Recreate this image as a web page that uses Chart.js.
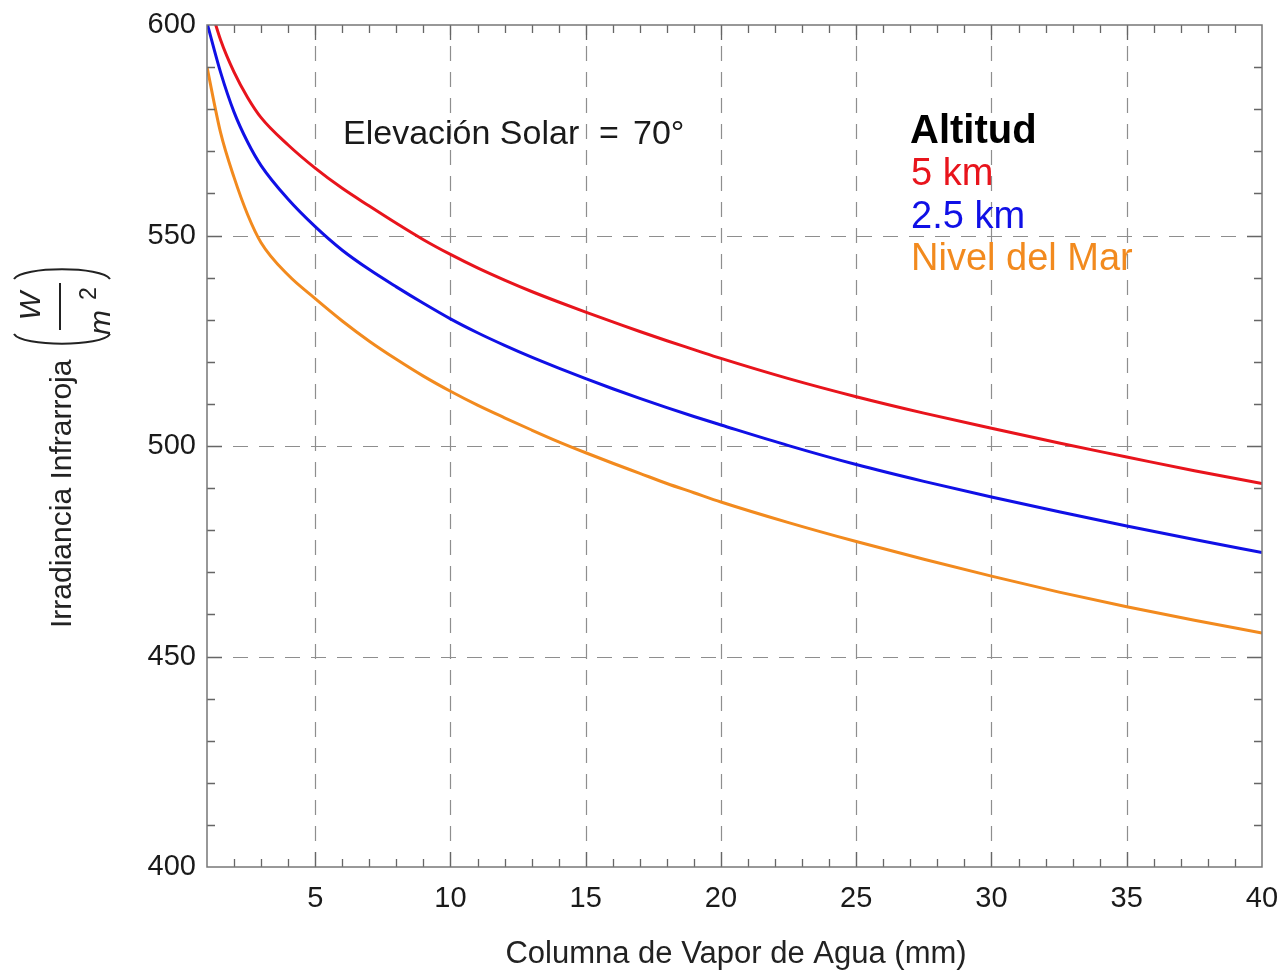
<!DOCTYPE html>
<html>
<head>
<meta charset="utf-8">
<script src="https://cdn.jsdelivr.net/npm/chart.js@4.4.1/dist/chart.umd.min.js"></script>
<style>
  html, body { margin: 0; padding: 0; background: #fff; }
  #wrap { width: 1284px; height: 974px; }
</style>
</head>
<body>
<div id="wrap"><canvas id="c" width="1284" height="974"></canvas></div>
<script>
// Water vapour column (mm)
const waterVapor = [1, 1.5, 2, 2.5, 3, 4, 5, 6, 7, 8, 9, 10, 11, 12, 13, 14, 15, 16, 17, 18, 19, 20,
                    22.5, 25, 27.5, 30, 32.5, 35, 37.5, 40];
// Infrared irradiance (W/m²) at each altitude
const irr5km = [607, 596.5, 588.8, 582.8, 578.0, 571.5, 566.0, 561.2, 557.0, 552.9, 549.0, 545.5,
                542.3, 539.4, 536.7, 534.2, 531.8, 529.5, 527.2, 525.0, 522.9, 520.8,
                516.0, 511.7, 507.8, 504.2, 500.7, 497.4, 494.1, 491.1];
const irr25km = [600.5, 588.8, 579.3, 572.2, 566.6, 558.6, 552.1, 546.5, 541.9, 537.8, 533.9, 530.2,
                 526.9, 523.9, 521.1, 518.5, 516.0, 513.6, 511.3, 509.1, 507.0, 505.0,
                 500.1, 495.6, 491.6, 487.9, 484.4, 481.0, 477.8, 474.7];
const irrSea = [590, 574.5, 563.8, 555.0, 548.3, 540.6, 535.0, 529.7, 524.9, 520.6, 516.6, 513.0,
                509.7, 506.7, 503.8, 501.0, 498.4, 495.9, 493.5, 491.1, 488.9, 486.7,
                481.8, 477.3, 473.1, 469.1, 465.3, 461.8, 458.6, 455.6];

const seriesNames = ['5 km', '2.5 km', 'Nivel del Mar'];
const seriesColors = ['#e8141c', '#1010e6', '#f28a1e'];
const legendTitle = 'Altitud';
const xTickValues = [5, 10, 15, 20, 25, 30, 35, 40];
const yTickValues = [400, 450, 500, 550, 600];
const xTitle = 'Columna de Vapor de Agua (mm)';
const yTitle = 'Irradiancia Infrarroja';
const noteParts = ['Elevación Solar', '=', '70°'];

const FONT = '"Liberation Sans", Arial, Helvetica, sans-serif';

function toPoints(ys) {
  return waterVapor.map((x, i) => ({ x: x, y: ys[i] }));
}

// Dashed grid, inner tick marks and frame (Mathematica-style box)
const framePlugin = {
  id: 'framePlugin',
  beforeDatasetsDraw(chart) {
    const { ctx, chartArea: a, scales: { x, y } } = chart;
    ctx.save();
    ctx.strokeStyle = '#8e8e8e';
    ctx.lineWidth = 1.2;
    ctx.setLineDash([15, 11]);
    xTickValues.forEach(v => {
      if (v <= x.min || v >= x.max) return;
      const px = Math.round(x.getPixelForValue(v)) + 0.5;
      ctx.beginPath(); ctx.moveTo(px, a.bottom); ctx.lineTo(px, a.top); ctx.stroke();
    });
    yTickValues.forEach(v => {
      if (v <= y.min || v >= y.max) return;
      const py = Math.round(y.getPixelForValue(v)) + 0.5;
      ctx.beginPath(); ctx.moveTo(a.left, py); ctx.lineTo(a.right, py); ctx.stroke();
    });
    ctx.restore();
  },
  afterDatasetsDraw(chart) {
    const { ctx, chartArea: a, scales: { x, y } } = chart;
    ctx.save();
    ctx.strokeStyle = '#666';
    ctx.lineWidth = 1.3;
    // x ticks every 1 mm, longer at multiples of 5
    for (let v = Math.ceil(x.min) + 1; v < x.max; v++) {
      const px = Math.round(x.getPixelForValue(v)) + 0.5;
      const len = v % 5 === 0 ? 15 : 8;
      ctx.beginPath();
      ctx.moveTo(px, a.bottom); ctx.lineTo(px, a.bottom - len);
      ctx.moveTo(px, a.top); ctx.lineTo(px, a.top + len);
      ctx.stroke();
    }
    // y ticks every 10, longer at multiples of 50
    for (let v = y.min + 10; v < y.max; v += 10) {
      const py = Math.round(y.getPixelForValue(v)) + 0.5;
      const len = v % 50 === 0 ? 15 : 8;
      ctx.beginPath();
      ctx.moveTo(a.left, py); ctx.lineTo(a.left + len, py);
      ctx.moveTo(a.right, py); ctx.lineTo(a.right - len, py);
      ctx.stroke();
    }
    ctx.strokeStyle = '#777';
    ctx.lineWidth = 1.5;
    ctx.strokeRect(a.left, a.top, a.right - a.left, a.bottom - a.top);
    ctx.restore();
  },
  afterDraw(chart) {
    const { ctx } = chart;
    ctx.save();
    ctx.textBaseline = 'alphabetic';
    ctx.textAlign = 'left';

    // solar elevation note
    ctx.fillStyle = '#1a1a1a';
    ctx.font = '34px ' + FONT;
    ctx.fillText(noteParts[0], 343, 144);
    ctx.fillText(noteParts[1], 599, 144);
    ctx.fillText(noteParts[2], 633, 144);

    // legend block
    ctx.fillStyle = '#000';
    ctx.font = 'bold 40px ' + FONT;
    ctx.fillText(legendTitle, 910, 143);
    ctx.font = '38px ' + FONT;
    const rows = [185, 228, 270];
    seriesNames.forEach((n, i) => {
      ctx.fillStyle = seriesColors[i];
      ctx.fillText(n, 911, rows[i]);
    });

    // x axis title
    ctx.fillStyle = '#222';
    ctx.font = '31px ' + FONT;
    ctx.textAlign = 'center';
    ctx.fillText(xTitle, 736, 963);

    // y axis title with (W / m²)
    ctx.translate(71, 628);
    ctx.rotate(-Math.PI / 2);
    ctx.textAlign = 'left';
    ctx.font = '30px ' + FONT;
    ctx.fillText(yTitle, 0, 0);

    ctx.strokeStyle = '#222';
    ctx.lineWidth = 2;
    // parentheses
    ctx.beginPath();
    ctx.moveTo(294, -57); ctx.bezierCurveTo(281, -49, 281, 31, 294, 39);
    ctx.moveTo(349, -57); ctx.bezierCurveTo(362, -49, 362, 31, 349, 39);
    ctx.stroke();
    // fraction bar
    ctx.beginPath();
    ctx.moveTo(298, -11); ctx.lineTo(345, -11);
    ctx.stroke();
    // numerator and denominator
    ctx.font = 'italic 30px ' + FONT;
    ctx.textAlign = 'center';
    ctx.fillText('W', 322, -31);
    ctx.textAlign = 'left';
    ctx.fillText('m', 293, 39);
    ctx.font = '23px ' + FONT;
    ctx.fillText('2', 328, 25);
    ctx.restore();
  }
};

const datasets = [irr5km, irr25km, irrSea].map((ys, i) => ({
  label: seriesNames[i],
  data: toPoints(ys),
  borderColor: seriesColors[i],
  backgroundColor: seriesColors[i],
  borderWidth: 3,
  pointRadius: 0,
  fill: false,
  cubicInterpolationMode: 'monotone'
}));

new Chart(document.getElementById('c'), {
  type: 'line',
  data: { datasets },
  plugins: [framePlugin],
  options: {
    responsive: false,
    animation: false,
    devicePixelRatio: 1,
    layout: { padding: { left: 0, right: 22, top: 25, bottom: 0 } },
    plugins: { legend: { display: false }, tooltip: { enabled: false } },
    scales: {
      x: {
        type: 'linear',
        min: 1,
        max: 40,
        grid: { display: false, drawTicks: false },
        border: { display: false },
        afterBuildTicks(scale) { scale.ticks = xTickValues.map(v => ({ value: v })); },
        afterFit(scale) { scale.height = 107; scale.paddingLeft = 0; scale.paddingRight = 0; },
        ticks: {
          autoSkip: false,
          maxRotation: 0,
          padding: 15,
          color: '#1a1a1a',
          font: { family: FONT, size: 29 }
        }
      },
      y: {
        type: 'linear',
        min: 400,
        max: 600,
        grid: { display: false, drawTicks: false },
        border: { display: false },
        afterBuildTicks(scale) { scale.ticks = yTickValues.map(v => ({ value: v })); },
        afterFit(scale) { scale.width = 207; scale.paddingTop = 0; scale.paddingBottom = 0; },
        ticks: {
          autoSkip: false,
          padding: 11,
          color: '#1a1a1a',
          font: { family: FONT, size: 29 }
        }
      }
    }
  }
});
</script>
</body>
</html>
